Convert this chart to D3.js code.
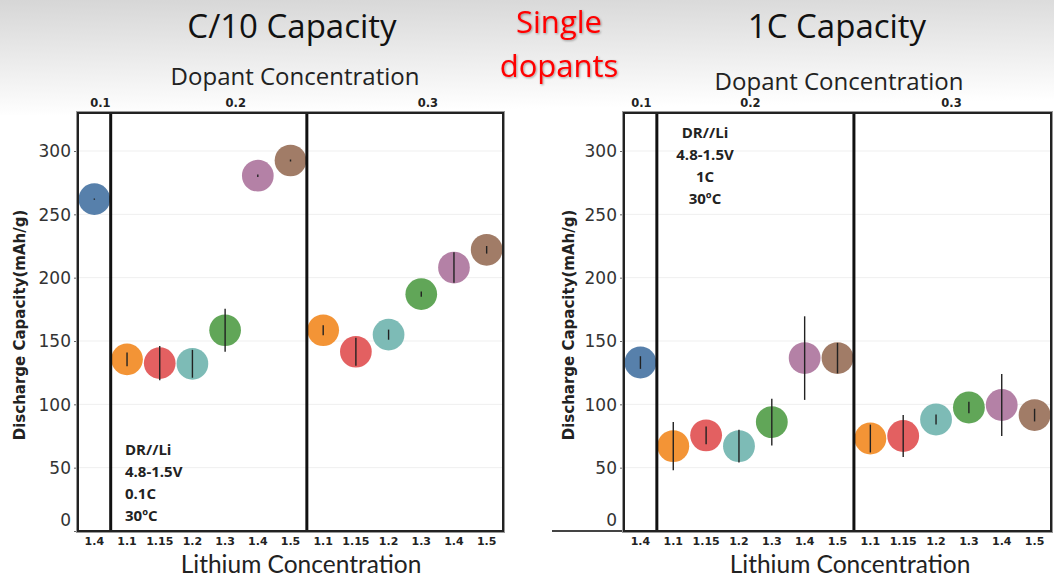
<!DOCTYPE html>
<html>
<head>
<meta charset="utf-8">
<script src="https://cdn.jsdelivr.net/npm/d3@7"></script>
<style>
  html, body { margin: 0; padding: 0; background: #fff; }
  svg { display: block; }
</style>
</head>
<body>
<div id="chart"></div>
<script>
// dopant concentration panels and the lithium levels inside each one
var dopants = ["0.1", "0.2", "0.3"];
var panelLithium = [
    ["1.4"],
    ["1.1", "1.15", "1.2", "1.3", "1.4", "1.5"],
    ["1.1", "1.15", "1.2", "1.3", "1.4", "1.5"]
];
// one colour per point, same order as the values below
var pointColors = [
    "#4e79a7",
    "#f28e2b", "#e15759", "#76b7b2", "#59a14f", "#b07aa1", "#9c755f",
    "#f28e2b", "#e15759", "#76b7b2", "#59a14f", "#b07aa1", "#9c755f"
];
// C/10 capacity (mAh/g) and error half-widths
var c10Values = [262, 135.5, 132.5, 132, 158.5, 280.5, 292.5, 158.5, 141.5, 155, 187, 208, 222];
var c10Errors = [0.5, 5.5, 13.5, 11, 17, 1, 0.8, 4, 11, 4, 2, 12, 3];
// 1C capacity (mAh/g) and error half-widths
var c1Values = [133, 67, 75.5, 67, 86, 136.5, 136.5, 73, 75, 88, 97.5, 99.5, 91.5];
var c1Errors = [5, 19, 7, 13, 18.5, 33, 12, 11, 16.5, 4, 4.5, 24.5, 5];
var yTicks = [0, 50, 100, 150, 200, 250, 300];
var c10Notes = ["DR//Li", "4.8-1.5V", "0.1C", "30\u00baC"];
var c1Notes = ["DR//Li", "4.8-1.5V", "1C", "30\u00baC"];

var width = 1054, height = 578;

var svg = d3.select('#chart').append('svg')
    .attr('width', width)
    .attr('height', height);

// slide background: grey fading to white at the top
var defs = svg.append('defs');
var grad = defs.append('linearGradient')
    .attr('id', 'bg')
    .attr('x1', 0).attr('y1', 0).attr('x2', 0.15).attr('y2', 1);
grad.append('stop').attr('offset', '0%').attr('stop-color', '#d6d6d6');
grad.append('stop').attr('offset', '100%').attr('stop-color', '#ffffff');
var shadow = defs.append('filter').attr('id', 'shadow')
    .attr('x', '-10%').attr('y', '-10%').attr('width', '130%').attr('height', '130%');
shadow.append('feDropShadow')
    .attr('dx', 1).attr('dy', 1).attr('stdDeviation', 0.8)
    .attr('flood-color', '#000').attr('flood-opacity', 0.35);

svg.append('rect').attr('width', width).attr('height', height).attr('fill', '#fff');
svg.append('rect').attr('width', width).attr('height', 115).attr('fill', 'url(#bg)');

// band keys for every point: "dopant|lithium"
var keys = [];
var panelOf = [];
dopants.forEach(function (d, i) {
    panelLithium[i].forEach(function (li) {
        keys.push(d + '|' + li);
        panelOf.push(i);
    });
});

var y = d3.scaleLinear().domain([0, 330]).range([531, 113]);

/**
 * Draws one capacity panel group.
 */
function drawChart(opts) {
    var x = d3.scaleBand().domain(keys).range([opts.left, opts.right]).padding(0);
    var g = svg.append('g');
    var top = y.range()[1], bottom = y.range()[0];

    // plot background
    g.append('rect')
        .attr('x', opts.left).attr('y', top)
        .attr('width', opts.right - opts.left).attr('height', bottom - top)
        .attr('fill', '#fff');

    // faint gridlines
    g.selectAll('.grid').data(yTicks.slice(1))
        .enter().append('line')
        .attr('x1', opts.left).attr('x2', opts.right)
        .attr('y1', function (d) { return y(d); })
        .attr('y2', function (d) { return y(d); })
        .style('stroke', '#efefef');

    // y axis labels
    var yAxis = d3.axisLeft(y).tickValues(yTicks).tickSize(4).tickPadding(3);
    var ya = g.append('g')
        .attr('transform', 'translate(' + opts.left + ',0)')
        .call(yAxis);
    ya.select('.domain').remove();
    ya.selectAll('line').style('stroke', '#666');
    ya.selectAll('text')
        .style('font-family', 'DejaVu Sans, sans-serif')
        .style('font-size', '17px')
        .style('fill', '#333')
        .attr('dy', function (d) { return d === 0 ? '-0.3em' : '0.34em'; });

    if (opts.baseLeft) {
        g.append('line')
            .attr('x1', opts.baseLeft).attr('x2', opts.left)
            .attr('y1', bottom).attr('y2', bottom)
            .style('stroke', '#444').style('stroke-width', 2);
    }

    // bottom lithium tick labels
    var xAxis = d3.axisBottom(x).tickSize(0).tickPadding(6)
        .tickFormat(function (k) { return k.split('|')[1]; });
    var xa = g.append('g')
        .attr('transform', 'translate(0,' + bottom + ')')
        .call(xAxis);
    xa.select('.domain').remove();
    xa.selectAll('text')
        .style('font-family', 'DejaVu Sans, sans-serif')
        .style('font-weight', 'bold')
        .style('font-size', '11px')
        .style('fill', '#222');

    // top dopant labels, centred on each panel
    dopants.forEach(function (d, i) {
        var first = keys[panelOf.indexOf(i)];
        var last = keys[panelOf.lastIndexOf(i)];
        var cx = (x(first) + x(last) + x.bandwidth()) / 2 + opts.topShift[i];
        g.append('text')
            .attr('x', cx).attr('y', top - 6)
            .attr('text-anchor', 'middle')
            .style('font-family', 'DejaVu Sans, sans-serif')
            .style('font-weight', 'bold')
            .style('font-size', '11.5px')
            .style('fill', '#222')
            .text(d);
    });

    // points
    var data = opts.values.map(function (v, i) {
        return { key: keys[i], value: v, err: opts.errors[i], color: pointColors[i] };
    });
    var r = x.bandwidth() / 2 - 0.5;
    g.selectAll('.dot').data(data)
        .enter().append('circle')
        .attr('cx', function (d) { return x(d.key) + x.bandwidth() / 2; })
        .attr('cy', function (d) { return y(d.value); })
        .attr('r', r)
        .attr('fill', function (d) { return d.color; })
        .attr('fill-opacity', 0.95);

    // error bars
    g.selectAll('.err').data(data)
        .enter().append('line')
        .attr('x1', function (d) { return x(d.key) + x.bandwidth() / 2; })
        .attr('x2', function (d) { return x(d.key) + x.bandwidth() / 2; })
        .attr('y1', function (d) { return y(d.value + d.err); })
        .attr('y2', function (d) { return y(d.value - d.err); })
        .style('stroke', '#222')
        .style('stroke-width', 1.4);

    // panel dividers
    [1, 2].forEach(function (i) {
        var xx = x(keys[panelOf.indexOf(i)]);
        g.append('line')
            .attr('x1', xx).attr('x2', xx)
            .attr('y1', top).attr('y2', bottom)
            .style('stroke', '#111').style('stroke-width', 3);
    });

    // frame
    g.append('rect')
        .attr('x', opts.left - 1.5).attr('y', top - 1.5)
        .attr('width', opts.right - opts.left + 3).attr('height', bottom - top + 3)
        .attr('fill', 'none').style('stroke', '#999').style('stroke-width', 1);
    g.append('rect')
        .attr('x', opts.left).attr('y', top)
        .attr('width', opts.right - opts.left).attr('height', bottom - top)
        .attr('fill', 'none').style('stroke', '#222').style('stroke-width', 2);

    // condition notes
    g.selectAll('.note').data(opts.notes)
        .enter().append('text')
        .attr('x', opts.noteX)
        .attr('y', function (d, i) { return opts.noteY + i * 22; })
        .attr('text-anchor', opts.noteAnchor)
        .style('font-family', 'Open Sans, sans-serif')
        .style('font-weight', 'bold')
        .style('font-size', '15px')
        .style('fill', '#222')
        .text(function (d) { return d; });

    // axis titles
    g.append('text')
        .attr('transform', 'translate(' + opts.yTitleX + ',' + ((top + bottom) / 2 + 3) + ') rotate(-90)')
        .attr('text-anchor', 'middle')
        .style('font-family', 'DejaVu Sans, sans-serif')
        .style('font-weight', 'bold')
        .style('font-size', '15px')
        .style('fill', '#222')
        .text('Discharge Capacity(mAh/g)');
    g.append('text')
        .attr('x', opts.xTitleX).attr('y', 572.5)
        .attr('text-anchor', 'middle')
        .style('font-family', 'Lato, sans-serif')
        .style('font-size', '24.5px')
        .style('fill', '#222')
        .text('Lithium Concentration');
    g.append('text')
        .attr('x', opts.dopTitleX).attr('y', opts.dopTitleY)
        .attr('text-anchor', 'middle')
        .style('font-family', 'Open Sans, sans-serif')
        .style('font-size', '24px')
        .style('fill', '#222')
        .text('Dopant Concentration');
    g.append('text')
        .attr('x', opts.titleX).attr('y', 38)
        .attr('text-anchor', 'middle')
        .style('font-family', 'Open Sans, sans-serif')
        .style('font-size', '33px')
        .style('fill', '#111')
        .text(opts.title);
}

drawChart({
    left: 78, right: 503, values: c10Values, errors: c10Errors,
    notes: c10Notes, noteX: 125, noteY: 455, noteAnchor: 'start',
    topShift: [6, 27, 23],
    yTitleX: 25, xTitleX: 301, dopTitleX: 295, dopTitleY: 85,
    title: 'C/10 Capacity', titleX: 292
});
drawChart({
    left: 624, right: 1051, values: c1Values, errors: c1Errors,
    notes: c1Notes, noteX: 705, noteY: 138, noteAnchor: 'middle',
    topShift: [1, -5, -1], baseLeft: 552,
    yTitleX: 574, xTitleX: 850, dopTitleX: 839, dopTitleY: 90,
    title: '1C Capacity', titleX: 837
});

// red slide label in the middle
svg.append('g').selectAll('text').data(['Single', 'dopants'])
    .enter().append('text')
    .attr('x', 559)
    .attr('y', function (d, i) { return 33 + i * 44; })
    .attr('text-anchor', 'middle')
    .attr('filter', 'url(#shadow)')
    .style('font-family', 'Open Sans, sans-serif')
    .style('font-size', '31px')
    .style('fill', '#ff0000')
    .text(function (d) { return d; });
</script>
</body>
</html>
